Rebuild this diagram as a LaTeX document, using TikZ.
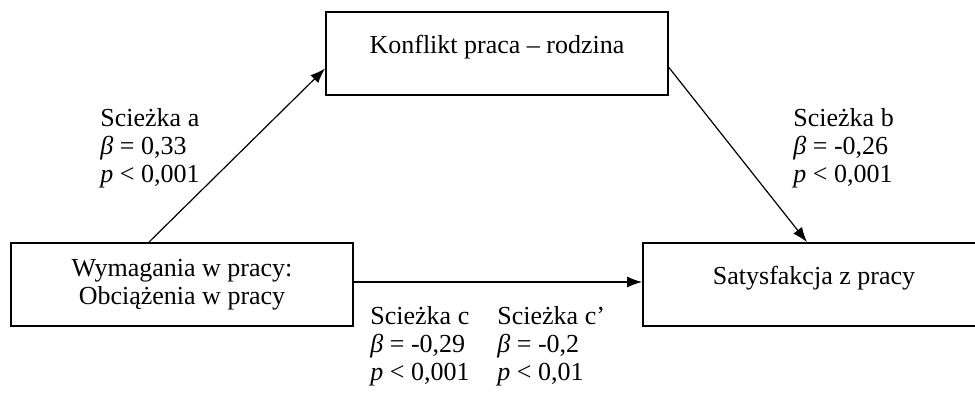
\documentclass[tikz,border=0pt]{standalone}
\usepackage{fontspec}
\setmainfont{Liberation Serif}
\usetikzlibrary{arrows.meta}

\tikzset{
	box/.style={draw, line width=0.9pt, minimum width=171pt, inner sep=0pt, font=\fontsize{13}{14}\selectfont},
	boxtop/.style={box, text height=21pt, text depth=20.5pt},
	lbl/.style={anchor=base west, align=left, inner sep=0pt, font=\fontsize{13}{14}\selectfont},
	pth/.style={line width=0.6pt, -{Latex[length=7.5pt,width=5.5pt]}}
}

\begin{document}
\begin{tikzpicture}[x=0.5pt,y=-0.5pt]
	\useasboundingbox (0,0) rectangle (975,394);
	\node[boxtop] (konf) at (497,53.5) {Konflikt praca -- rodzina};
	\node[box, minimum height=41.5pt, align=center] (wym) at (182,284.5) {Wymagania w pracy:\\Obciążenia w pracy};
	\node[boxtop] (sat) at (814,284.5) {Satysfakcja z pracy};
	\draw[pth] ([xshift=-16.5pt]wym.north) -- ([yshift=-7.5pt]konf.west);
	\draw[pth] ([yshift=-7pt]konf.east) -- ([xshift=-3.5pt]sat.north);
	\draw[pth] ([yshift=1.25pt]wym.east) -- ([yshift=1.25pt]sat.west);
	% baseline of the last line
	\node[lbl] (la) at (100,183) {Scieżka a\\\textit{β} = 0,33\\\textit{p} < 0,001};
	\node[lbl] (lb) at (793,183) {Scieżka b\\\textit{β} = -0,26\\\textit{p} < 0,001};
	\node[lbl] (lc) at (370,381) {Scieżka c\\\textit{β} = -0,29\\\textit{p} < 0,001};
	\node[lbl] (ld) at (497,381) {Scieżka c’\\\textit{β} = -0,2\\\textit{p} < 0,01};
\end{tikzpicture}
\end{document}
